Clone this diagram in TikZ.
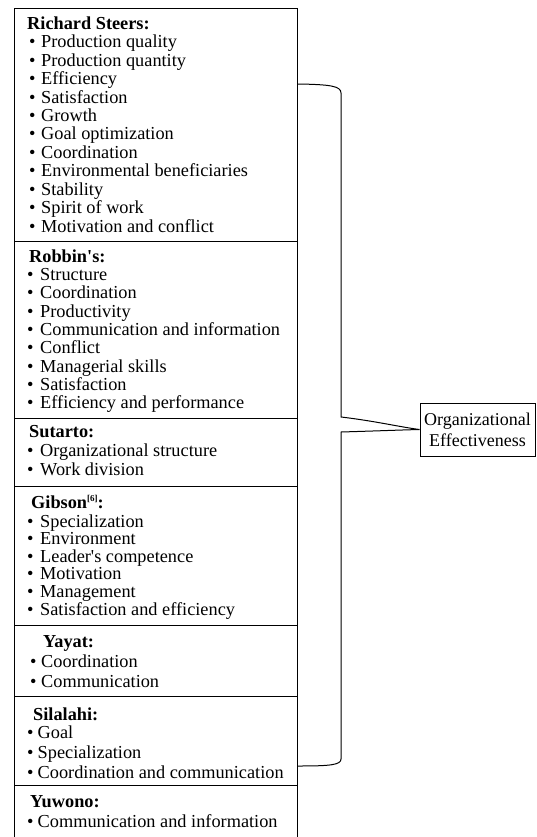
\documentclass[tikz,border=0pt]{standalone}
\usepackage{fontspec}
\setmainfont{Liberation Serif}[Ligatures=TeXOff]
\newcommand\itfont{\fontsize{18.3}{18.3}\selectfont}
\newcommand\bul[1]{\makebox[#1][l]{\textbullet}}
\newcommand\sq{\char"0027\relax}
\begin{document}
\begin{tikzpicture}[x=1pt,y=-1pt,
  sec/.style={draw, line width=1.2pt, anchor=north west, inner sep=0pt, minimum width=282.5pt},
  itm/.style={anchor=base west, inner sep=0pt, font=\itfont},
  hd/.style={anchor=base west, inner sep=0pt, font=\itfont\bfseries},
  brace/.style={line width=1pt},
  oebox/.style={draw, line width=1pt, minimum width=115pt, minimum height=53pt, inner sep=0pt, align=center, font=\fontsize{18}{21}\selectfont}]
\useasboundingbox (0,0) rectangle (536,837);
\clip (0,0) rectangle (536,837);
% section boxes
\node[sec, minimum height=233pt] (s1) at (14,8) {};
\node[sec, minimum height=177pt] (s2) at (14,241) {};
\node[sec, minimum height=68pt] (s3) at (14,418) {};
\node[sec, minimum height=139pt] (s4) at (14,486) {};
\node[sec, minimum height=71pt] (s5) at (14,625) {};
\node[sec, minimum height=89pt] (s6) at (14,696) {};
\node[sec, minimum height=70pt] (s7) at (14,785) {};
% Richard Steers
\node[hd] (h1) at (27,29.6) {Richard Steers:};
\foreach \t [count=\i] in {Production quality,Production quantity,Efficiency,Satisfaction,Growth,Goal optimization,Coordination,Environmental beneficiaries,Stability,Spirit of work,Motivation and conflict}
  \node[itm] (a\i) at (29,{48+18.4*(\i-1)}) {\bul{12pt}\t};
% Robbin's
\node[hd] (h2) at (29,262) {Robbin\sq s:};
\foreach \t [count=\i] in {Structure,Coordination,Productivity,Communication and information,Conflict,Managerial skills,Satisfaction,Efficiency and performance}
  \node[itm] (b\i) at (27,{280.5+18.3*(\i-1)}) {\bul{13pt}\t};
% Sutarto
\node[hd] (h3) at (29,437) {Sutarto:};
\foreach \t [count=\i] in {Organizational structure,Work division}
  \node[itm] (c\i) at (27,{456+19*(\i-1)}) {\bul{13pt}\t};
% Gibson
\node[hd] (h4) at (31,508) {Gibson\raisebox{7pt}{\fontsize{9}{9}\selectfont[6]}:};
\foreach \t [count=\i] in {Specialization,Environment,Leader\sq s competence,Motivation,Management,Satisfaction and efficiency}
  \node[itm] (d\i) at (27,{527+17.6*(\i-1)}) {\bul{13pt}\t};
% Yayat
\node[hd] (h5) at (43,647) {Yayat:};
\foreach \t [count=\i] in {Coordination,Communication}
  \node[itm] (e\i) at (30,{667+20*(\i-1)}) {\bul{11pt}\t};
% Silalahi
\node[hd] (h6) at (33,720) {Silalahi:};
\foreach \t [count=\i] in {Goal,Specialization,Coordination and communication}
  \node[itm] (f\i) at (27,{738.5+20*(\i-1)}) {\bul{10.5pt}\t};
% Yuwono
\node[hd] (h7) at (30,807) {Yuwono:};
\node[itm] (g1) at (27,827.5) {\bul{10.5pt}Communication and information};
% Organizational Effectiveness
\node[oebox] (oe) at (477.5,429.5) {Organizational\\Effectiveness};
% brace
\coordinate (bt) at (s1.east |- 0,84);
\coordinate (bb) at (s6.east |- 0,766);
\draw[brace] (bt) .. controls (330,84.5) and (341,86) .. (341,93) -- (341,417)
  .. controls (375,421) and (400,427) .. (oe.west)
  .. controls (400,430) and (375,431) .. (341,432) -- (341,759)
  .. controls (341,765) and (330,766) .. (bb);
\end{tikzpicture}
\end{document}
